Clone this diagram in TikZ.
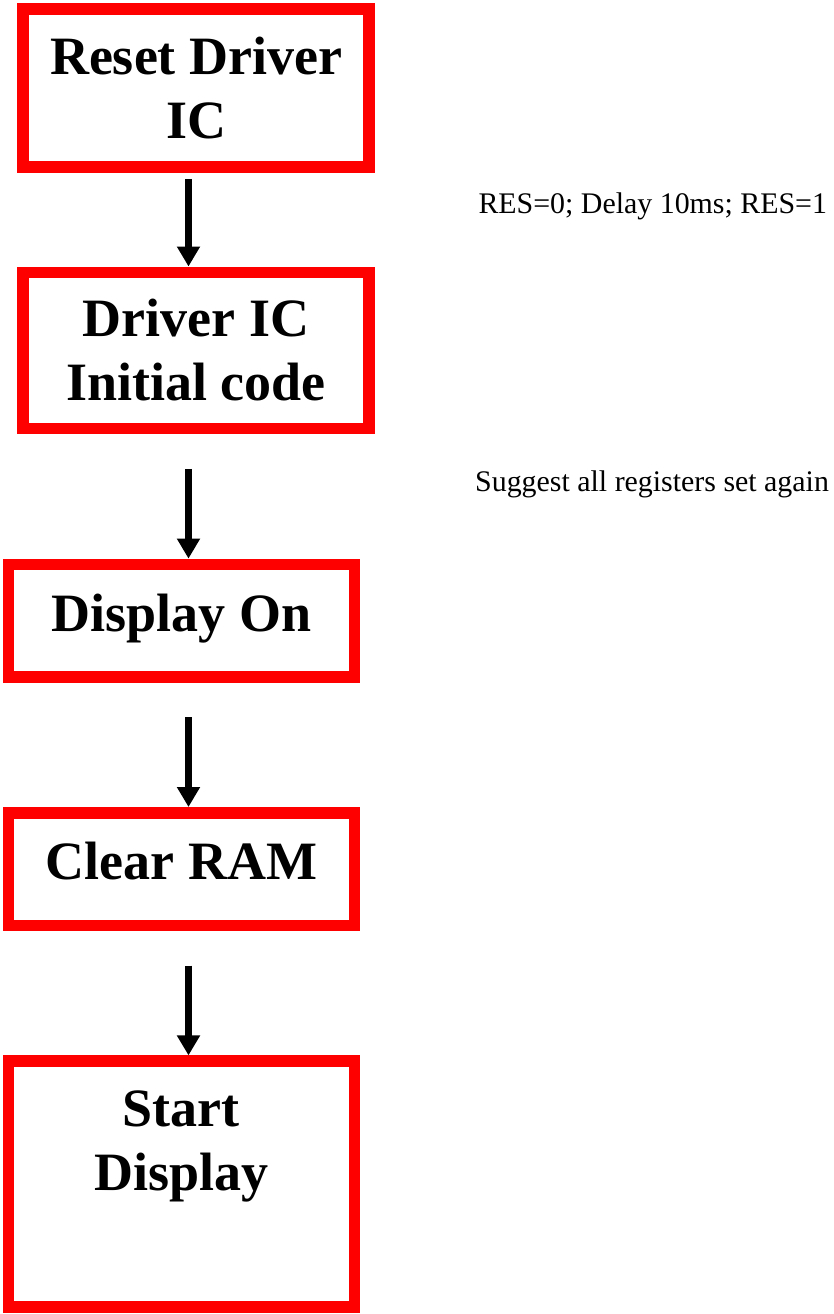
\documentclass[tikz,border=0pt]{standalone}
\usepackage{fontspec}
\setmainfont{Liberation Serif}
\usetikzlibrary{arrows.meta}
\usetikzlibrary{positioning}

\tikzset{
	stepbox/.style={draw=red, line width=11.5pt, minimum width=346pt, align=center,
		font=\fontsize{54}{64}\selectfont\bfseries},
	steptext/.style={anchor=north, inner sep=0pt, align=center,
		font=\fontsize{54}{64}\selectfont\bfseries},
	note/.style={anchor=base west, inner sep=0pt, font=\fontsize{29.9}{35}\selectfont},
}

\begin{document}
\begin{tikzpicture}[x=1pt,y=-1pt,>={Triangle[width=22pt,length=20pt]},flow/.style={->,line width=7.5pt}]
	\useasboundingbox (0,0) rectangle (834,1314);
	\node[stepbox, minimum height=157.7pt] (reset) at (196.2,87.9) {Reset Driver\\IC};
	\node[stepbox, minimum height=156.3pt] (init) [below=94pt of reset] {Driver IC\\Initial code};
	\node[stepbox, minimum height=112.6pt, text height=38pt, text depth=17pt] (dispon) [below=124.3pt of init, xshift=-14.9pt] {Display On};
	\node[stepbox, minimum height=112.6pt, text height=38pt, text depth=17pt] (clear) [below=124.3pt of dispon] {Clear RAM};
	\node[stepbox, minimum height=246pt,
		label={[steptext, name=starttext, yshift=-35pt]north:{Start\\Display}}] (start) [below=124.3pt of clear] {};
	% side notes
	\node[note] (resnote) at (478.3,213.3) {RES=0; Delay 10ms; RES=1};
	\node[note] (regnote) at (475,491.7) {Suggest all registers set again};
	% flow
	\draw[flow] ([shift={(-7.7pt,-6.3pt)}]reset.south) -- ([xshift=-7.7pt]init.north);
	\draw[flow] ([shift={(-7.7pt,-34.5pt)}]init.south) -- ([xshift=7.2pt]dispon.north);
	\draw[flow] ([shift={(7.2pt,-34.4pt)}]dispon.south) -- ([xshift=7.2pt]clear.north);
	\draw[flow] ([shift={(7.2pt,-34.4pt)}]clear.south) -- ([xshift=7.2pt]start.north);
\end{tikzpicture}
\end{document}
